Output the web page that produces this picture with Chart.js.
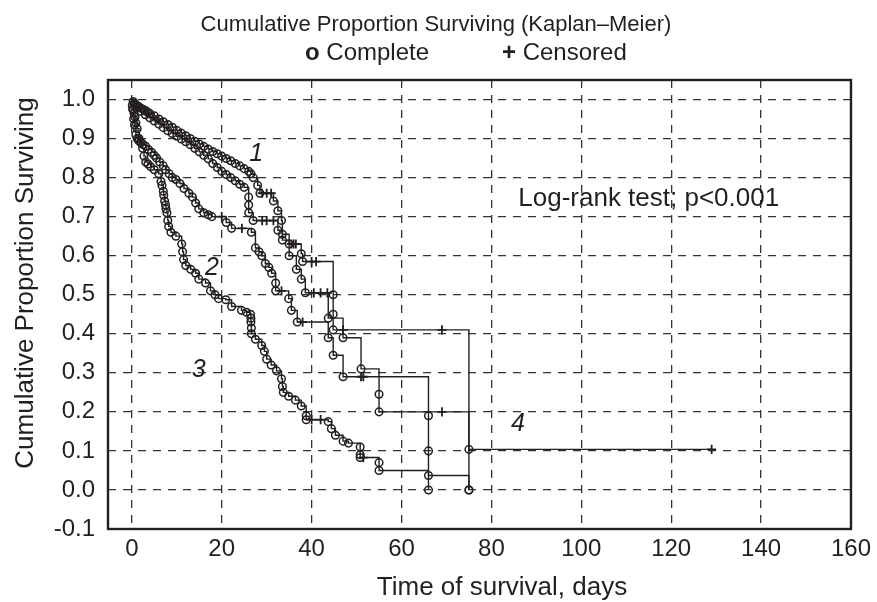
<!DOCTYPE html>
<html>
<head>
<meta charset="utf-8">
<title>Cumulative Proportion Surviving (Kaplan–Meier)</title>
<script src="https://cdn.jsdelivr.net/npm/chart.js@4.4.1/dist/chart.umd.min.js"></script>
<style>
  html, body { margin: 0; padding: 0; background: #fff; }
  #wrap { width: 877px; height: 602px; }
</style>
</head>
<body>
<div id="wrap"><canvas id="kmChart"></canvas></div>
<script>
// axis ticks
const xTicks = [0, 20, 40, 60, 80, 100, 120, 140, 160];
const yTicks = [-0.1, 0.0, 0.1, 0.2, 0.3, 0.4, 0.5, 0.6, 0.7, 0.8, 0.9, 1.0];

// curve 1 (upper band, lower edge)
const g1EventT = [0.5, 1, 2, 3, 4, 5, 6, 7, 8, 9, 10, 11, 12, 13, 14, 15, 16, 17, 18, 19, 20, 21, 22, 23, 24, 25, 26, 26, 26, 27,
  32.5, 33.5, 35, 36.6, 37.7, 38.6, 43.7, 47, 51, 55, 55, 75];
const g1EventS = [.988, .979, .97, .961, .953, .945, .937, .928, .92, .913, .906, .899, .892, .884, .875, .866, .857, .848, .836, .826, .816, .808, .80, .792, .783, .775, .75, .73, .71, .69,
  .665, .64, .60, .565, .54, .505, .44, .39, .31, .245, .20, 0];
const g1CensT = [29, 30, 31.5, 40.5, 42, 43.5, 69];
const g1CensS = [.69, .69, .69, .505, .505, .505, .20];

// curve 2
const g2EventT = [0.1, 0.3, 0.5, 0.7, 0.9, 1.2, 1.6, 2, 2.5, 3.1, 3.7, 4.4, 5, 5.5, 6.2, 7, 7.5, 8.3, 9, 9.8,
  10.7, 11.6, 12.7, 13.5, 14.2, 14.9, 16, 17, 17.8, 21, 22.2, 26.6, 27.5, 28.3, 28.9, 29.7, 30.5, 31.1, 32, 32,
  34.9, 35.5, 36.8, 43.7, 44.8, 47, 66, 66, 66, 75];
const g2EventS = [.985, .975, .965, .955, .94, .925, .90, .89, .885, .88, .872, .865, .857, .85, .84, .83, .82, .81, .80, .795,
  .785, .772, .76, .75, .735, .72, .71, .705, .70, .685, .67, .66, .62, .61, .60, .58, .57, .555, .53, .51,
  .49, .46, .43, .39, .345, .29, .19, .10, .037, 0];
const g2CensT = [20, 24.5, 33.3, 38, 51, 51.5];
const g2CensS = [.70, .67, .51, .43, .29, .29];

// curve 3
const g3EventT = [0.2, 0.4, 0.6, 0.9, 1.2, 1.5, 2, 2.4, 2.7, 3.1, 3.6, 4.2, 5, 6, 6.5, 6.7, 7, 7.1, 7.3, 7.5,
  7.6, 7.8, 8, 8.2, 8.7, 9.8, 11.1, 11.3, 11.5, 12, 13.1, 14.2, 14.9, 16.4, 17.5, 18.5, 19.3, 20.9, 22.2, 24.4,
  25.5, 26.4, 26.5, 26.5, 26.6, 26.6, 27.5, 28.9, 29.5, 30, 31, 32.2, 33.3, 33.5, 33.7, 34.9, 36.4, 37.7, 38.8, 38.8,
  43.7, 44.4, 45.3, 47, 48.2, 50.8, 50.8, 50.8, 55, 55, 66];
const g3EventS = [.975, .95, .935, .91, .90, .895, .89, .875, .855, .84, .835, .828, .82, .81, .79, .78, .765, .755, .74, .73,
  .72, .71, .69, .675, .66, .65, .63, .61, .59, .575, .565, .555, .54, .53, .51, .50, .49, .487, .47, .46,
  .455, .45, .44, .43, .415, .40, .386, .37, .355, .335, .32, .305, .285, .265, .25, .24, .23, .215, .19, .18,
  .175, .157, .14, .125, .12, .11, .09, .083, .07, .05, 0];
const g3CensT = [40, 42, 51.5];
const g3CensS = [.18, .18, .083];

// curve 4 (upper band, top edge, long tail)
const g4EventT = [0.3, 0.6, 1, 1.5, 2, 2.5, 3, 3.5, 4, 5, 6, 7, 8, 9, 10, 11, 12, 13, 14, 15, 16, 17, 18, 19, 20,
  21, 22, 23, 24, 25, 26, 26.5, 27, 28, 28.5, 31.5, 32.5, 33.3, 33.5, 35, 37.7, 38, 44.8, 44.8, 44.8, 75];
const g4EventS = [.995, .99, .986, .982, .978, .975, .972, .968, .964, .958, .95, .943, .936, .929, .921, .914, .907, .9, .893, .886, .88, .873, .867, .861, .855,
  .849, .843, .836, .83, .823, .816, .81, .80, .78, .76, .74, .715, .69, .655, .63, .605, .585, .50, .45, .41, .104];
const g4CensT = [29, 30, 31, 35.5, 36, 36.5, 40, 41, 47, 69, 129];
const g4CensS = [.76, .76, .76, .63, .63, .63, .585, .585, .41, .41, .104];

const ink = "#231f20";
const gridInk = "#333333";
const fam = '"Liberation Sans", Arial, Helvetica, sans-serif';

// merge events and censored cases into one step curve starting at (0, 1)
function kmPoints(eventT, eventS, censT, censS) {
  const pts = [{ x: 0, y: 1, m: "" }];
  eventT.forEach((t, i) => pts.push({ x: t, y: eventS[i], m: "o" }));
  censT.forEach((t, i) => pts.push({ x: t, y: censS[i], m: "+" }));
  return pts.sort((a, b) => (a.x - b.x) || (b.y - a.y));
}

function kmDataset(label, pts) {
  return {
    label: label,
    data: pts,
    stepped: true,
    fill: false,
    borderColor: ink,
    borderWidth: 1.4,
    pointStyle: c => (c.raw && c.raw.m === "+") ? "cross" : "circle",
    pointRadius: c => (!c.raw || !c.raw.m) ? 0 : (c.raw.m === "+" ? 4.6 : 3.8),
    pointBorderWidth: c => (c.raw && c.raw.m === "+") ? 1.8 : 1.5,
    pointBorderColor: ink,
    pointBackgroundColor: "rgba(0,0,0,0)",
    clip: false
  };
}

// frame, titles and annotations
const decorations = {
  id: "decorations",
  afterDraw(chart) {
    const { ctx, chartArea: a, scales: { x, y } } = chart;
    ctx.save();
    ctx.strokeStyle = ink;
    ctx.lineWidth = 2.4;
    ctx.strokeRect(a.left, a.top, a.right - a.left, a.bottom - a.top);

    ctx.fillStyle = ink;
    ctx.textBaseline = "middle";
    ctx.textAlign = "center";
    ctx.font = "22px " + fam;
    ctx.fillText("Cumulative Proportion Surviving (Kaplan–Meier)", 436, 25);

    // legend line
    ctx.textAlign = "left";
    ctx.font = "bold 24px " + fam;
    ctx.fillText("o", 305, 53);
    let w = ctx.measureText("o").width;
    ctx.font = "24px " + fam;
    ctx.fillText(" Complete", 305 + w, 53);
    ctx.font = "bold 24px " + fam;
    ctx.fillText("+", 502, 53);
    w = ctx.measureText("+").width;
    ctx.font = "24px " + fam;
    ctx.fillText(" Censored", 502 + w, 53);

    ctx.textAlign = "center";
    ctx.font = "26px " + fam;
    ctx.fillText("Time of survival, days", 502, 588);
    ctx.fillText("Log-rank test; p<0.001", x.getPixelForValue(115), y.getPixelForValue(0.745));

    ctx.save();
    ctx.translate(26, 283);
    ctx.rotate(-Math.PI / 2);
    ctx.fillText("Cumulative Proportion Surviving", 0, 0);
    ctx.restore();

    ctx.font = "italic 25px " + fam;
    ctx.fillText("1", x.getPixelForValue(27.7), y.getPixelForValue(0.86));
    ctx.fillText("2", x.getPixelForValue(17.8), y.getPixelForValue(0.568));
    ctx.fillText("3", x.getPixelForValue(14.9), y.getPixelForValue(0.306));
    ctx.fillText("4", x.getPixelForValue(85.9), y.getPixelForValue(0.168));
    ctx.restore();
  }
};

const tickFont = { family: fam, size: 24 };

new Chart(document.getElementById("kmChart"), {
  type: "line",
  data: {
    datasets: [
      kmDataset("1", kmPoints(g1EventT, g1EventS, g1CensT, g1CensS)),
      kmDataset("2", kmPoints(g2EventT, g2EventS, g2CensT, g2CensS)),
      kmDataset("3", kmPoints(g3EventT, g3EventS, g3CensT, g3CensS)),
      kmDataset("4", kmPoints(g4EventT, g4EventS, g4CensT, g4CensS))
    ]
  },
  options: {
    responsive: true,
    maintainAspectRatio: false,
    animation: false,
    events: [],
    layout: { padding: { top: 80, right: 22, bottom: 0, left: 0 } },
    plugins: {
      legend: { display: false },
      title: { display: false },
      tooltip: { enabled: false }
    },
    scales: {
      x: {
        type: "linear",
        min: -5.3,
        max: 160,
        afterBuildTicks: s => { s.ticks = xTicks.map(v => ({ value: v })); },
        afterFit: s => { s.height = 73; },
        ticks: { color: ink, font: tickFont, padding: 6, autoSkip: false, maxRotation: 0 },
        grid: { color: gridInk, lineWidth: 1.3, drawTicks: false },
        border: { display: false, dash: [8, 7] }
      },
      y: {
        min: -0.1,
        max: 1.05,
        afterBuildTicks: s => { s.ticks = yTicks.map(v => ({ value: v })); },
        afterFit: s => { s.width = 108; },
        ticks: { color: ink, font: tickFont, padding: 13, callback: v => v.toFixed(1) },
        grid: { color: gridInk, lineWidth: 1.3, drawTicks: false },
        border: { display: false, dash: [8, 7] }
      }
    }
  },
  plugins: [decorations]
});
</script>
</body>
</html>
